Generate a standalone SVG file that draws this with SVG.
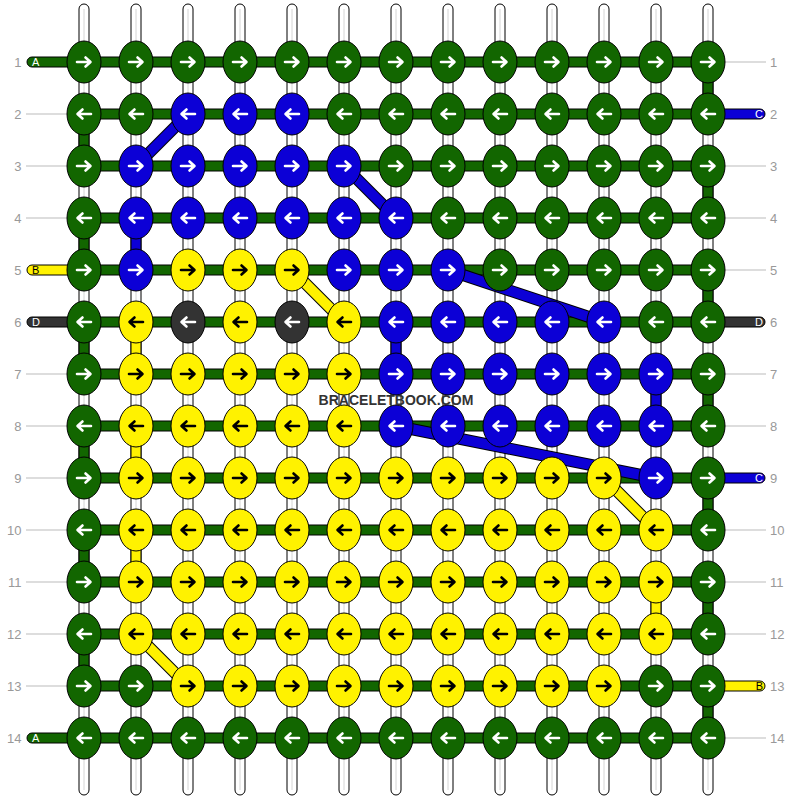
<svg xmlns="http://www.w3.org/2000/svg" xmlns:xlink="http://www.w3.org/1999/xlink" width="792" height="800" viewBox="0 0 792 800">
<style>
.g{fill:#126600}.b{fill:#0c00d6}.y{fill:#fff200}.d{fill:#333333}
.w{stroke:#ffffff}.k{stroke:#000000}
.bar{stroke:#000;stroke-width:1}
.gl{stroke:#bbbbbb;stroke-width:1}
.lbl{font-family:"Liberation Sans",Arial,sans-serif;font-size:13px;fill:#999999}
.sl{font-family:"Liberation Sans",Arial,sans-serif;font-size:11px}
.dk{stroke:#000;stroke-width:12;stroke-linecap:butt}
.dbc{stroke:#0c00d6;stroke-width:10}.dyc{stroke:#fff200;stroke-width:10}
</style>
<defs>
<g id="str"><rect x="-5" y="4" width="10" height="791" rx="5" fill="#ffffff" stroke="#000000"/><line x1="0" y1="9" x2="0" y2="790" stroke="#d4d4d4" stroke-width="1"/></g>
<ellipse id="kn" rx="17" ry="21" stroke="#000000" stroke-width="1"/>
<path id="aR" d="M-7,0H6M1.5,-4.5L6.5,0L1.5,4.5" fill="none" stroke-width="2.6" stroke-linecap="round" stroke-linejoin="round"/>
<path id="aL" d="M7,0H-6M-1.5,-4.5L-6.5,0L-1.5,4.5" fill="none" stroke-width="2.6" stroke-linecap="round" stroke-linejoin="round"/>
<g id="gR"><use href="#kn" class="g"/><use href="#aR" class="w"/></g>
<g id="gL"><use href="#kn" class="g"/><use href="#aL" class="w"/></g>
<g id="bR"><use href="#kn" class="b"/><use href="#aR" class="w"/></g>
<g id="bL"><use href="#kn" class="b"/><use href="#aL" class="w"/></g>
<g id="yR"><use href="#kn" class="y"/><use href="#aR" class="k"/></g>
<g id="yL"><use href="#kn" class="y"/><use href="#aL" class="k"/></g>
<g id="dL"><use href="#kn" class="d"/><use href="#aL" class="w"/></g>
</defs>
<rect width="792" height="800" fill="#ffffff"/>
<g id="strings">
<use href="#str" x="84"/><use href="#str" x="136"/><use href="#str" x="188"/><use href="#str" x="240"/><use href="#str" x="292"/><use href="#str" x="344"/><use href="#str" x="396"/><use href="#str" x="448"/><use href="#str" x="500"/><use href="#str" x="552"/><use href="#str" x="604"/><use href="#str" x="656"/><use href="#str" x="708"/>
</g>
<g id="guides">
<line class="gl" x1="26" y1="114" x2="67" y2="114"/><line class="gl" x1="26" y1="166" x2="67" y2="166"/><line class="gl" x1="26" y1="218" x2="67" y2="218"/><line class="gl" x1="26" y1="374" x2="67" y2="374"/><line class="gl" x1="26" y1="426" x2="67" y2="426"/><line class="gl" x1="26" y1="478" x2="67" y2="478"/><line class="gl" x1="26" y1="530" x2="67" y2="530"/><line class="gl" x1="26" y1="582" x2="67" y2="582"/><line class="gl" x1="26" y1="634" x2="67" y2="634"/><line class="gl" x1="26" y1="686" x2="67" y2="686"/>
<line class="gl" x1="725" y1="62" x2="766" y2="62"/><line class="gl" x1="725" y1="166" x2="766" y2="166"/><line class="gl" x1="725" y1="218" x2="766" y2="218"/><line class="gl" x1="725" y1="270" x2="766" y2="270"/><line class="gl" x1="725" y1="374" x2="766" y2="374"/><line class="gl" x1="725" y1="426" x2="766" y2="426"/><line class="gl" x1="725" y1="530" x2="766" y2="530"/><line class="gl" x1="725" y1="582" x2="766" y2="582"/><line class="gl" x1="725" y1="634" x2="766" y2="634"/><line class="gl" x1="725" y1="738" x2="766" y2="738"/>
</g>
<g id="connectors">
<rect class="bar g" x="84" y="57" width="624" height="10"/><rect class="bar g" x="84" y="109" width="624" height="10"/><rect class="bar g" x="84" y="161" width="624" height="10"/><rect class="bar g" x="84" y="213" width="624" height="10"/><rect class="bar g" x="84" y="265" width="624" height="10"/><rect class="bar g" x="84" y="317" width="624" height="10"/><rect class="bar g" x="84" y="369" width="624" height="10"/><rect class="bar g" x="84" y="421" width="624" height="10"/><rect class="bar g" x="84" y="473" width="624" height="10"/><rect class="bar g" x="84" y="525" width="624" height="10"/><rect class="bar g" x="84" y="577" width="624" height="10"/><rect class="bar g" x="84" y="629" width="624" height="10"/><rect class="bar g" x="84" y="681" width="624" height="10"/><rect class="bar g" x="84" y="733" width="624" height="10"/>
<rect class="bar g" x="27" y="57" width="60" height="10" rx="5"/><rect class="bar y" x="27" y="265" width="60" height="10" rx="5"/><rect class="bar d" x="27" y="317" width="60" height="10" rx="5"/><rect class="bar g" x="27" y="733" width="60" height="10" rx="5"/>
<rect class="bar b" x="705" y="109" width="60" height="10" rx="5"/><rect class="bar d" x="705" y="317" width="60" height="10" rx="5"/><rect class="bar b" x="705" y="473" width="60" height="10" rx="5"/><rect class="bar y" x="705" y="681" width="60" height="10" rx="5"/>
<rect class="bar g" x="79" y="114" width="10" height="52"/><rect class="bar g" x="79" y="218" width="10" height="52"/><rect class="bar g" x="79" y="322" width="10" height="52"/><rect class="bar g" x="79" y="426" width="10" height="52"/><rect class="bar g" x="79" y="530" width="10" height="52"/><rect class="bar g" x="79" y="634" width="10" height="52"/>
<rect class="bar g" x="703" y="62" width="10" height="52"/><rect class="bar g" x="703" y="166" width="10" height="52"/><rect class="bar g" x="703" y="270" width="10" height="52"/><rect class="bar g" x="703" y="374" width="10" height="52"/><rect class="bar g" x="703" y="478" width="10" height="52"/><rect class="bar g" x="703" y="582" width="10" height="52"/><rect class="bar g" x="703" y="686" width="10" height="52"/>
<rect class="bar b" x="131" y="218" width="10" height="52"/><rect class="bar y" x="131" y="322" width="10" height="52"/><rect class="bar y" x="131" y="426" width="10" height="52"/><rect class="bar y" x="131" y="530" width="10" height="52"/>
<rect class="bar b" x="391" y="322" width="10" height="52"/><rect class="bar b" x="651" y="374" width="10" height="52"/><rect class="bar y" x="651" y="582" width="10" height="52"/>
<line class="dk" x1="188" y1="114" x2="136" y2="166"/><line class="dbc" x1="188" y1="114" x2="136" y2="166"/>
<line class="dk" x1="344" y1="166" x2="396" y2="218"/><line class="dbc" x1="344" y1="166" x2="396" y2="218"/>
<line class="dk" x1="448" y1="270" x2="604" y2="322"/><line class="dbc" x1="448" y1="270" x2="604" y2="322"/>
<line class="dk" x1="396" y1="426" x2="656" y2="478"/><line class="dbc" x1="396" y1="426" x2="656" y2="478"/>
<line class="dk" x1="292" y1="270" x2="344" y2="322"/><line class="dyc" x1="292" y1="270" x2="344" y2="322"/>
<line class="dk" x1="604" y1="478" x2="656" y2="530"/><line class="dyc" x1="604" y1="478" x2="656" y2="530"/>
<line class="dk" x1="136" y1="634" x2="188" y2="686"/><line class="dyc" x1="136" y1="634" x2="188" y2="686"/>
</g>
<g id="knots">
<g id="k1-1"><use href="#gR" x="84" y="62"/></g><g id="k1-2"><use href="#gR" x="136" y="62"/></g><g id="k1-3"><use href="#gR" x="188" y="62"/></g><g id="k1-4"><use href="#gR" x="240" y="62"/></g><g id="k1-5"><use href="#gR" x="292" y="62"/></g><g id="k1-6"><use href="#gR" x="344" y="62"/></g><g id="k1-7"><use href="#gR" x="396" y="62"/></g><g id="k1-8"><use href="#gR" x="448" y="62"/></g><g id="k1-9"><use href="#gR" x="500" y="62"/></g><g id="k1-10"><use href="#gR" x="552" y="62"/></g><g id="k1-11"><use href="#gR" x="604" y="62"/></g><g id="k1-12"><use href="#gR" x="656" y="62"/></g><g id="k1-13"><use href="#gR" x="708" y="62"/></g>
<g id="k2-1"><use href="#gL" x="84" y="114"/></g><g id="k2-2"><use href="#gL" x="136" y="114"/></g><g id="k2-3"><use href="#bL" x="188" y="114"/></g><g id="k2-4"><use href="#bL" x="240" y="114"/></g><g id="k2-5"><use href="#bL" x="292" y="114"/></g><g id="k2-6"><use href="#gL" x="344" y="114"/></g><g id="k2-7"><use href="#gL" x="396" y="114"/></g><g id="k2-8"><use href="#gL" x="448" y="114"/></g><g id="k2-9"><use href="#gL" x="500" y="114"/></g><g id="k2-10"><use href="#gL" x="552" y="114"/></g><g id="k2-11"><use href="#gL" x="604" y="114"/></g><g id="k2-12"><use href="#gL" x="656" y="114"/></g><g id="k2-13"><use href="#gL" x="708" y="114"/></g>
<g id="k3-1"><use href="#gR" x="84" y="166"/></g><g id="k3-2"><use href="#bR" x="136" y="166"/></g><g id="k3-3"><use href="#bR" x="188" y="166"/></g><g id="k3-4"><use href="#bR" x="240" y="166"/></g><g id="k3-5"><use href="#bR" x="292" y="166"/></g><g id="k3-6"><use href="#bR" x="344" y="166"/></g><g id="k3-7"><use href="#gR" x="396" y="166"/></g><g id="k3-8"><use href="#gR" x="448" y="166"/></g><g id="k3-9"><use href="#gR" x="500" y="166"/></g><g id="k3-10"><use href="#gR" x="552" y="166"/></g><g id="k3-11"><use href="#gR" x="604" y="166"/></g><g id="k3-12"><use href="#gR" x="656" y="166"/></g><g id="k3-13"><use href="#gR" x="708" y="166"/></g>
<g id="k4-1"><use href="#gL" x="84" y="218"/></g><g id="k4-2"><use href="#bL" x="136" y="218"/></g><g id="k4-3"><use href="#bL" x="188" y="218"/></g><g id="k4-4"><use href="#bL" x="240" y="218"/></g><g id="k4-5"><use href="#bL" x="292" y="218"/></g><g id="k4-6"><use href="#bL" x="344" y="218"/></g><g id="k4-7"><use href="#bL" x="396" y="218"/></g><g id="k4-8"><use href="#gL" x="448" y="218"/></g><g id="k4-9"><use href="#gL" x="500" y="218"/></g><g id="k4-10"><use href="#gL" x="552" y="218"/></g><g id="k4-11"><use href="#gL" x="604" y="218"/></g><g id="k4-12"><use href="#gL" x="656" y="218"/></g><g id="k4-13"><use href="#gL" x="708" y="218"/></g>
<g id="k5-1"><use href="#gR" x="84" y="270"/></g><g id="k5-2"><use href="#bR" x="136" y="270"/></g><g id="k5-3"><use href="#yR" x="188" y="270"/></g><g id="k5-4"><use href="#yR" x="240" y="270"/></g><g id="k5-5"><use href="#yR" x="292" y="270"/></g><g id="k5-6"><use href="#bR" x="344" y="270"/></g><g id="k5-7"><use href="#bR" x="396" y="270"/></g><g id="k5-8"><use href="#bR" x="448" y="270"/></g><g id="k5-9"><use href="#gR" x="500" y="270"/></g><g id="k5-10"><use href="#gR" x="552" y="270"/></g><g id="k5-11"><use href="#gR" x="604" y="270"/></g><g id="k5-12"><use href="#gR" x="656" y="270"/></g><g id="k5-13"><use href="#gR" x="708" y="270"/></g>
<g id="k6-1"><use href="#gL" x="84" y="322"/></g><g id="k6-2"><use href="#yL" x="136" y="322"/></g><g id="k6-3"><use href="#dL" x="188" y="322"/></g><g id="k6-4"><use href="#yL" x="240" y="322"/></g><g id="k6-5"><use href="#dL" x="292" y="322"/></g><g id="k6-6"><use href="#yL" x="344" y="322"/></g><g id="k6-7"><use href="#bL" x="396" y="322"/></g><g id="k6-8"><use href="#bL" x="448" y="322"/></g><g id="k6-9"><use href="#bL" x="500" y="322"/></g><g id="k6-10"><use href="#bL" x="552" y="322"/></g><g id="k6-11"><use href="#bL" x="604" y="322"/></g><g id="k6-12"><use href="#gL" x="656" y="322"/></g><g id="k6-13"><use href="#gL" x="708" y="322"/></g>
<g id="k7-1"><use href="#gR" x="84" y="374"/></g><g id="k7-2"><use href="#yR" x="136" y="374"/></g><g id="k7-3"><use href="#yR" x="188" y="374"/></g><g id="k7-4"><use href="#yR" x="240" y="374"/></g><g id="k7-5"><use href="#yR" x="292" y="374"/></g><g id="k7-6"><use href="#yR" x="344" y="374"/></g><g id="k7-7"><use href="#bR" x="396" y="374"/></g><g id="k7-8"><use href="#bR" x="448" y="374"/></g><g id="k7-9"><use href="#bR" x="500" y="374"/></g><g id="k7-10"><use href="#bR" x="552" y="374"/></g><g id="k7-11"><use href="#bR" x="604" y="374"/></g><g id="k7-12"><use href="#bR" x="656" y="374"/></g><g id="k7-13"><use href="#gR" x="708" y="374"/></g>
<g id="k8-1"><use href="#gL" x="84" y="426"/></g><g id="k8-2"><use href="#yL" x="136" y="426"/></g><g id="k8-3"><use href="#yL" x="188" y="426"/></g><g id="k8-4"><use href="#yL" x="240" y="426"/></g><g id="k8-5"><use href="#yL" x="292" y="426"/></g><g id="k8-6"><use href="#yL" x="344" y="426"/></g><g id="k8-7"><use href="#bL" x="396" y="426"/></g><g id="k8-8"><use href="#bL" x="448" y="426"/></g><g id="k8-9"><use href="#bL" x="500" y="426"/></g><g id="k8-10"><use href="#bL" x="552" y="426"/></g><g id="k8-11"><use href="#bL" x="604" y="426"/></g><g id="k8-12"><use href="#bL" x="656" y="426"/></g><g id="k8-13"><use href="#gL" x="708" y="426"/></g>
<g id="k9-1"><use href="#gR" x="84" y="478"/></g><g id="k9-2"><use href="#yR" x="136" y="478"/></g><g id="k9-3"><use href="#yR" x="188" y="478"/></g><g id="k9-4"><use href="#yR" x="240" y="478"/></g><g id="k9-5"><use href="#yR" x="292" y="478"/></g><g id="k9-6"><use href="#yR" x="344" y="478"/></g><g id="k9-7"><use href="#yR" x="396" y="478"/></g><g id="k9-8"><use href="#yR" x="448" y="478"/></g><g id="k9-9"><use href="#yR" x="500" y="478"/></g><g id="k9-10"><use href="#yR" x="552" y="478"/></g><g id="k9-11"><use href="#yR" x="604" y="478"/></g><g id="k9-12"><use href="#bR" x="656" y="478"/></g><g id="k9-13"><use href="#gR" x="708" y="478"/></g>
<g id="k10-1"><use href="#gL" x="84" y="530"/></g><g id="k10-2"><use href="#yL" x="136" y="530"/></g><g id="k10-3"><use href="#yL" x="188" y="530"/></g><g id="k10-4"><use href="#yL" x="240" y="530"/></g><g id="k10-5"><use href="#yL" x="292" y="530"/></g><g id="k10-6"><use href="#yL" x="344" y="530"/></g><g id="k10-7"><use href="#yL" x="396" y="530"/></g><g id="k10-8"><use href="#yL" x="448" y="530"/></g><g id="k10-9"><use href="#yL" x="500" y="530"/></g><g id="k10-10"><use href="#yL" x="552" y="530"/></g><g id="k10-11"><use href="#yL" x="604" y="530"/></g><g id="k10-12"><use href="#yL" x="656" y="530"/></g><g id="k10-13"><use href="#gL" x="708" y="530"/></g>
<g id="k11-1"><use href="#gR" x="84" y="582"/></g><g id="k11-2"><use href="#yR" x="136" y="582"/></g><g id="k11-3"><use href="#yR" x="188" y="582"/></g><g id="k11-4"><use href="#yR" x="240" y="582"/></g><g id="k11-5"><use href="#yR" x="292" y="582"/></g><g id="k11-6"><use href="#yR" x="344" y="582"/></g><g id="k11-7"><use href="#yR" x="396" y="582"/></g><g id="k11-8"><use href="#yR" x="448" y="582"/></g><g id="k11-9"><use href="#yR" x="500" y="582"/></g><g id="k11-10"><use href="#yR" x="552" y="582"/></g><g id="k11-11"><use href="#yR" x="604" y="582"/></g><g id="k11-12"><use href="#yR" x="656" y="582"/></g><g id="k11-13"><use href="#gR" x="708" y="582"/></g>
<g id="k12-1"><use href="#gL" x="84" y="634"/></g><g id="k12-2"><use href="#yL" x="136" y="634"/></g><g id="k12-3"><use href="#yL" x="188" y="634"/></g><g id="k12-4"><use href="#yL" x="240" y="634"/></g><g id="k12-5"><use href="#yL" x="292" y="634"/></g><g id="k12-6"><use href="#yL" x="344" y="634"/></g><g id="k12-7"><use href="#yL" x="396" y="634"/></g><g id="k12-8"><use href="#yL" x="448" y="634"/></g><g id="k12-9"><use href="#yL" x="500" y="634"/></g><g id="k12-10"><use href="#yL" x="552" y="634"/></g><g id="k12-11"><use href="#yL" x="604" y="634"/></g><g id="k12-12"><use href="#yL" x="656" y="634"/></g><g id="k12-13"><use href="#gL" x="708" y="634"/></g>
<g id="k13-1"><use href="#gR" x="84" y="686"/></g><g id="k13-2"><use href="#gR" x="136" y="686"/></g><g id="k13-3"><use href="#yR" x="188" y="686"/></g><g id="k13-4"><use href="#yR" x="240" y="686"/></g><g id="k13-5"><use href="#yR" x="292" y="686"/></g><g id="k13-6"><use href="#yR" x="344" y="686"/></g><g id="k13-7"><use href="#yR" x="396" y="686"/></g><g id="k13-8"><use href="#yR" x="448" y="686"/></g><g id="k13-9"><use href="#yR" x="500" y="686"/></g><g id="k13-10"><use href="#yR" x="552" y="686"/></g><g id="k13-11"><use href="#yR" x="604" y="686"/></g><g id="k13-12"><use href="#gR" x="656" y="686"/></g><g id="k13-13"><use href="#gR" x="708" y="686"/></g>
<g id="k14-1"><use href="#gL" x="84" y="738"/></g><g id="k14-2"><use href="#gL" x="136" y="738"/></g><g id="k14-3"><use href="#gL" x="188" y="738"/></g><g id="k14-4"><use href="#gL" x="240" y="738"/></g><g id="k14-5"><use href="#gL" x="292" y="738"/></g><g id="k14-6"><use href="#gL" x="344" y="738"/></g><g id="k14-7"><use href="#gL" x="396" y="738"/></g><g id="k14-8"><use href="#gL" x="448" y="738"/></g><g id="k14-9"><use href="#gL" x="500" y="738"/></g><g id="k14-10"><use href="#gL" x="552" y="738"/></g><g id="k14-11"><use href="#gL" x="604" y="738"/></g><g id="k14-12"><use href="#gL" x="656" y="738"/></g><g id="k14-13"><use href="#gL" x="708" y="738"/></g>
</g>
<g id="stub-labels" class="sl">
<text x="32" y="66" fill="#ffffff">A</text><text x="32" y="274" fill="#000000">B</text><text x="32" y="326" fill="#ffffff">D</text><text x="32" y="742" fill="#ffffff">A</text>
<text x="763" y="118" text-anchor="end" fill="#ffffff">C</text><text x="763" y="326" text-anchor="end" fill="#ffffff">D</text><text x="763" y="482" text-anchor="end" fill="#ffffff">C</text><text x="763" y="690" text-anchor="end" fill="#000000">B</text>
</g>
<g id="row-labels" class="lbl">
<text x="21.5" y="66.5" text-anchor="end">1</text><text x="21.5" y="118.5" text-anchor="end">2</text><text x="21.5" y="170.5" text-anchor="end">3</text><text x="21.5" y="222.5" text-anchor="end">4</text><text x="21.5" y="274.5" text-anchor="end">5</text><text x="21.5" y="326.5" text-anchor="end">6</text><text x="21.5" y="378.5" text-anchor="end">7</text><text x="21.5" y="430.5" text-anchor="end">8</text><text x="21.5" y="482.5" text-anchor="end">9</text><text x="21.5" y="534.5" text-anchor="end">10</text><text x="21.5" y="586.5" text-anchor="end">11</text><text x="21.5" y="638.5" text-anchor="end">12</text><text x="21.5" y="690.5" text-anchor="end">13</text><text x="21.5" y="742.5" text-anchor="end">14</text>
<text x="770" y="66.5">1</text><text x="770" y="118.5">2</text><text x="770" y="170.5">3</text><text x="770" y="222.5">4</text><text x="770" y="274.5">5</text><text x="770" y="326.5">6</text><text x="770" y="378.5">7</text><text x="770" y="430.5">8</text><text x="770" y="482.5">9</text><text x="770" y="534.5">10</text><text x="770" y="586.5">11</text><text x="770" y="638.5">12</text><text x="770" y="690.5">13</text><text x="770" y="742.5">14</text>
</g>
<text x="396" y="405" text-anchor="middle" font-family="'Liberation Sans',Arial,sans-serif" font-size="14" font-weight="bold" fill="#333333">BRACELETBOOK.COM</text>
</svg>
